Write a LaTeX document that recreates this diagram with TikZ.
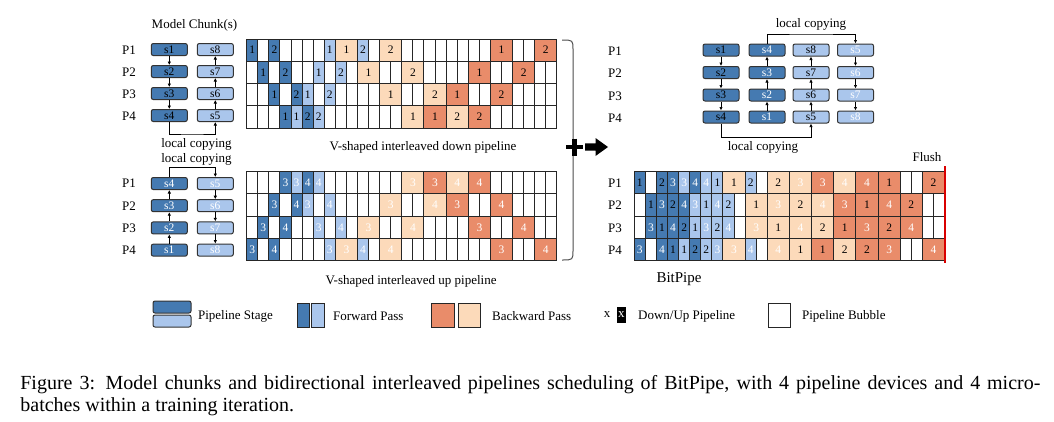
\documentclass[tikz,border=0pt]{standalone}
\usepackage{fontspec}
\setmainfont{Liberation Serif}
\usetikzlibrary{arrows.meta}
\definecolor{dkblue}{RGB}{69,122,177}
\definecolor{ltblue}{RGB}{170,198,236}
\definecolor{peach}{RGB}{252,218,186}
\definecolor{salmon}{RGB}{233,140,106}
\tikzset{every picture/.style={line width=0.75pt}}
\tikzset{
  chunk/.style={draw=black!80, rounded corners=2pt, minimum width=36pt, minimum height=12pt, inner sep=0pt, line width=1pt, font=\fontsize{11.5}{12}\selectfont},
  dchunk/.style={chunk, fill=dkblue},
  lchunk/.style={chunk, fill=ltblue},
  up/.style={text=white},
  arr/.style={-{Latex[length=3.5pt,width=3.5pt]}, line width=0.8pt},
  cell/.style={draw=black!85, line width=1pt},
  lab1/.style={text=black}, lab2/.style={text=black},
  lab3/.style={text=white}, lab4/.style={text=white},
  lbl/.style={inner sep=0.75pt, font=\fontsize{13}{15}\selectfont}
}
\def\cw{11.08}
\def\rh{22.3}
% schedule grid: name, x0, y0, coloured cells col/row/span/colour/microbatch
\newcommand{\schedgrid}[4]{%
  \foreach \r in {0,...,3}
    \foreach \c in {0,...,27}
      \draw[cell, fill=white] ({#2+\c*\cw},{#3+\r*\rh}) rectangle ++(\cw,\rh);
  \foreach \c/\r/\s/\f/\t in {#4} {
    \draw[cell, fill=\f] ({#2+\c*\cw},{#3+\r*\rh}) rectangle ++({\s*\cw},\rh);
    \node[lab\t, inner sep=0pt, font=\fontsize{11.5}{12}\selectfont] (#1-\r-\c) at ({#2+(\c+\s/2)*\cw},{#3+(\r+0.5)*\rh}) {\t};
  }
}

\begin{document}
\begin{tikzpicture}[x=1pt,y=1pt,yscale=-1,xscale=1]
\useasboundingbox (0,0) rectangle (1054,421);

% Text Node
\node[lbl] (mc) at (194.5,25) {Model Chunk(s)};

%Chunks: down pipeline
\foreach \i/\y/\a/\b in {1/49.5/s1/s8, 2/71.5/s2/s7, 3/93.5/s3/s6, 4/115.5/s4/s5} {
  \node[lbl] (pl-\i) at (129,\y+1) {P\i};
  \node[dchunk] (tl-\i) at (169.3,\y) {\a};
  \node[lchunk] (tr-\i) at (215.3,\y) {\b};
}
\foreach \i/\j in {1/2, 2/3, 3/4} {
  \draw[arr] (tl-\i) -- (tl-\j);
  \draw[arr] (tr-\j) -- (tr-\i);
}
\coordinate (cp-l1) at (192,134);
\draw[arr] (tl-4.south) |- (cp-l1) -| (tr-4.south);
\node[lbl] (lc-l1) at (196.5,144) {local copying};

%Chunks: up pipeline
\foreach \i/\y/\a/\b in {1/183.5/s4/s5, 2/205.7/s3/s6, 3/227.9/s2/s7, 4/250.1/s1/s8} {
  \node[lbl] (pb-\i) at (129,\y) {P\i};
  \node[dchunk, up] (bl-\i) at (169.3,\y) {\a};
  \node[lchunk, up] (br-\i) at (215.3,\y) {\b};
}
\foreach \i/\j in {1/2, 2/3, 3/4} {
  \draw[arr] (bl-\j) -- (bl-\i);
  \draw[arr] (br-\i) -- (br-\j);
}
\coordinate (cp-l2) at (192,167.5);
\draw[arr] (bl-1.north) |- (cp-l2) -| (br-1.north);
\node[lbl] (lc-l2) at (196.5,159) {local copying};

%Down pipeline grid
\schedgrid{dn}{246.7}{39}{0/0/1/dkblue/1, 2/0/1/dkblue/2, 7/0/1/ltblue/1, 8/0/2/peach/1, 10/0/1/ltblue/2, 12/0/2/peach/2, 22/0/2/salmon/1, 26/0/2/salmon/2,
  1/1/1/dkblue/1, 3/1/1/dkblue/2, 6/1/1/ltblue/1, 8/1/1/ltblue/2, 10/1/2/peach/1, 14/1/2/peach/2, 20/1/2/salmon/1, 24/1/2/salmon/2,
  2/2/1/dkblue/1, 4/2/1/dkblue/2, 5/2/1/ltblue/1, 7/2/1/ltblue/2, 12/2/2/peach/1, 16/2/2/peach/2, 18/2/2/salmon/1, 22/2/2/salmon/2,
  3/3/1/dkblue/1, 4/3/1/ltblue/1, 5/3/1/dkblue/2, 6/3/1/ltblue/2, 14/3/2/peach/1, 16/3/2/salmon/1, 18/3/2/peach/2, 20/3/2/salmon/2}
\node[lbl] (t-dn) at (423,147) {V-shaped interleaved down pipeline};

%Up pipeline grid
\schedgrid{upg}{246.7}{171.5}{3/0/1/dkblue/3, 4/0/1/ltblue/3, 5/0/1/dkblue/4, 6/0/1/ltblue/4, 14/0/2/peach/3, 16/0/2/salmon/3, 18/0/2/peach/4, 20/0/2/salmon/4,
  2/1/1/dkblue/3, 4/1/1/dkblue/4, 5/1/1/ltblue/3, 7/1/1/ltblue/4, 12/1/2/peach/3, 16/1/2/peach/4, 18/1/2/salmon/3, 22/1/2/salmon/4,
  1/2/1/dkblue/3, 3/2/1/dkblue/4, 6/2/1/ltblue/3, 8/2/1/ltblue/4, 10/2/2/peach/3, 14/2/2/peach/4, 20/2/2/salmon/3, 24/2/2/salmon/4,
  0/3/1/dkblue/3, 2/3/1/dkblue/4, 7/3/1/ltblue/3, 8/3/2/peach/3, 10/3/1/ltblue/4, 12/3/2/peach/4, 22/3/2/salmon/3, 26/3/2/salmon/4}
\node[lbl] (t-up) at (411,281) {V-shaped interleaved up pipeline};

%Brace, plus and arrow
\draw[line width=1pt, black!70] (562,40) .. controls (573,40) .. (573,50) -- (573,250) .. controls (573,260) .. (562,260);
\draw[line width=4.5pt] (566,147) -- (583,147) (574.5,138.5) -- (574.5,155.5);
\fill (585,143.3) -- (595.5,143.3) -- (595.5,138) -- (608,147) -- (595.5,156) -- (595.5,150.7) -- (585,150.7) -- cycle;

%BitPipe chunks
\foreach \i/\y/\a/\b/\c/\d in {1/50/s1/s4/s8/s5, 2/72.5/s2/s3/s7/s6, 3/95/s3/s2/s6/s7, 4/117/s4/s1/s5/s8} {
  \node[lbl] (pr-\i) at (615,\y+1) {P\i};
  \node[dchunk] (ra-\i) at (721,\y) {\a};
  \node[dchunk, up] (rb-\i) at (767,\y) {\b};
  \node[lchunk] (rc-\i) at (811,\y) {\c};
  \node[lchunk, up] (rd-\i) at (855.5,\y) {\d};
}
\foreach \i/\j in {1/2, 2/3, 3/4} {
  \draw[arr] (ra-\i) -- (ra-\j);
  \draw[arr] (rb-\j) -- (rb-\i);
  \draw[arr] (rc-\j) -- (rc-\i);
  \draw[arr] (rd-\i) -- (rd-\j);
}
\coordinate (cp-r1) at (811,34);
\draw[arr] (rb-1.north) |- (cp-r1) -| (rd-1.north);
\node[lbl] (lc-r1) at (811,24) {local copying};
\coordinate (cp-r2) at (766,137.5);
\draw[arr] (ra-4.south) |- (cp-r2) -| (rc-4.south);
\node[lbl] (lc-r2) at (763,147.5) {local copying};

%BitPipe grid
\foreach \i/\y in {1/183, 2/205.5, 3/228, 4/250.5}
  \node[lbl] (pq-\i) at (615,\y) {P\i};
\schedgrid{bp}{634.3}{171.5}{0/0/1/dkblue/1, 2/0/1/dkblue/2, 3/0/1/dkblue/3, 4/0/1/ltblue/3, 5/0/1/dkblue/4, 6/0/1/ltblue/4, 7/0/1/ltblue/1, 8/0/2/peach/1, 10/0/1/ltblue/2, 12/0/2/peach/2, 14/0/2/peach/3, 16/0/2/salmon/3, 18/0/2/peach/4, 20/0/2/salmon/4, 22/0/2/salmon/1, 26/0/2/salmon/2,
  1/1/1/dkblue/1, 2/1/1/dkblue/3, 3/1/1/dkblue/2, 4/1/1/dkblue/4, 5/1/1/ltblue/3, 6/1/1/ltblue/1, 7/1/1/ltblue/4, 8/1/1/ltblue/2, 10/1/2/peach/1, 12/1/2/peach/3, 14/1/2/peach/2, 16/1/2/peach/4, 18/1/2/salmon/3, 20/1/2/salmon/1, 22/1/2/salmon/4, 24/1/2/salmon/2,
  1/2/1/dkblue/3, 2/2/1/dkblue/1, 3/2/1/dkblue/4, 4/2/1/dkblue/2, 5/2/1/ltblue/1, 6/2/1/ltblue/3, 7/2/1/ltblue/2, 8/2/1/ltblue/4, 10/2/2/peach/3, 12/2/2/peach/1, 14/2/2/peach/4, 16/2/2/peach/2, 18/2/2/salmon/1, 20/2/2/salmon/3, 22/2/2/salmon/2, 24/2/2/salmon/4,
  0/3/1/dkblue/3, 2/3/1/dkblue/4, 3/3/1/dkblue/1, 4/3/1/ltblue/1, 5/3/1/dkblue/2, 6/3/1/ltblue/2, 7/3/1/ltblue/3, 8/3/2/peach/3, 10/3/1/ltblue/4, 12/3/2/peach/4, 14/3/2/peach/1, 16/3/2/salmon/1, 18/3/2/peach/2, 20/3/2/salmon/2, 22/3/2/salmon/3, 26/3/2/salmon/4}
\draw[red!85!black, line width=1.2pt] (945,166) -- (945,263);
\node[lbl] (flush) at (927,157) {Flush};
\node[lbl, font=\fontsize{15}{17}\selectfont] (bitpipe) at (679,279) {BitPipe};

%Legend
\draw[draw=black!80, line width=1pt, rounded corners=2pt, fill=dkblue] (153,301) rectangle (191,313);
\draw[draw=black!80, line width=1pt, rounded corners=2pt, fill=ltblue] (153,315) rectangle (191,327);
\node[lbl, anchor=west] (lg-st) at (197,316.5) {Pipeline Stage};
\draw[cell, fill=dkblue] (297.7,303) rectangle (309.3,327);
\draw[cell, fill=ltblue] (311.7,303) rectangle (324,327);
\node[lbl, anchor=west] (lg-fw) at (332,316.5) {Forward Pass};
\draw[cell, fill=salmon] (431.7,303) rectangle (454,327);
\draw[cell, fill=peach] (458,303) rectangle (480.7,327);
\node[lbl, anchor=west] (lg-bw) at (491,316.5) {Backward Pass};
\node[lbl] (lg-x1) at (607,315) {x};
\fill (616.7,306.7) rectangle (626,323.3);
\node[lbl, text=white] (lg-x2) at (621.3,315) {x};
\node[lbl, anchor=west] (lg-du) at (637,316.5) {Down/Up Pipeline};
\draw[cell] (768,303) rectangle (790,327);
\node[lbl, anchor=west] (lg-bb) at (801,316.5) {Pipeline Bubble};

%Caption
\node[anchor=north west, inner sep=0pt, text width=1020pt, align=justify, font=\fontsize{20}{22}\selectfont] (caption) at (20,375) {Figure 3: Model chunks and bidirectional interleaved pipelines scheduling of BitPipe, with 4 pipeline devices and 4 micro-\linebreak batches within a training iteration.};

\end{tikzpicture}
\end{document}
